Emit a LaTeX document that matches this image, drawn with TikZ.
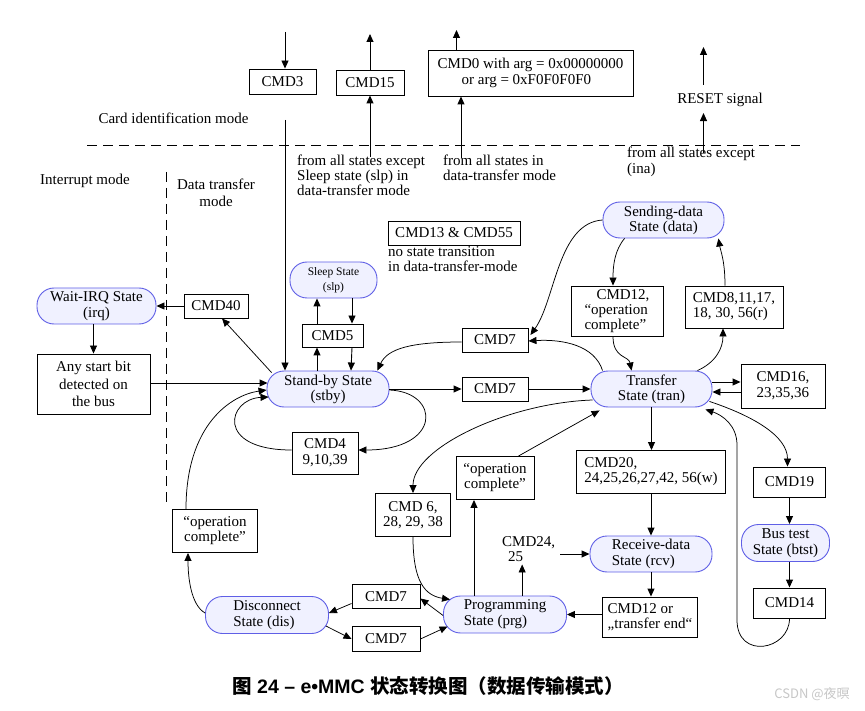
\documentclass[tikz,border=0pt]{standalone}
\usepackage{fontspec}
\setmainfont{Liberation Serif}
\newfontfamily\cjk{Noto Sans CJK SC}
\newfontfamily\capsans{Liberation Sans}
\usetikzlibrary{arrows.meta,calc}
\definecolor{stateblue}{RGB}{95,95,230}
\definecolor{statefill}{RGB}{240,241,255}
\begin{document}
\begin{tikzpicture}[x=1pt,y=-1pt,
  every node/.style={font=\fontsize{15}{16}\selectfont, inner sep=0pt},
  state/.style={draw=stateblue, fill=statefill, line width=0.9pt, rounded corners=17pt, minimum height=36pt, align=center},
  box/.style={draw=black, line width=0.9pt, align=center},
  arr/.style={-{Triangle[length=8pt,width=7pt]}, line width=0.9pt},
  carr/.style={-{Triangle[length=8pt,width=7pt]}, line width=0.75pt},
  dline/.style={dash pattern=on 10pt off 6pt, line width=0.9pt}]
\useasboundingbox (0,0) rectangle (865,711);
\fill[white] (0,0) rectangle (865,711);

% ---------- top area ----------
\node[box, minimum width=67pt, minimum height=25pt] (cmd3) at (282.5,81.5) {CMD3};
\node[box, minimum width=68pt, minimum height=25pt] (cmd15) at (370,82.5) {CMD15};
\node[box, minimum width=205pt, minimum height=46pt, align=left] (cmd0) at (530.5,73)
  {\fontsize{15}{15}\selectfont CMD0 with arg = 0x00000000\\\hspace*{24pt}or arg = 0xF0F0F0F0};
\node (reset) at (720,100) {RESET signal};
\node (cardid) at (173.5,118) {Card identification mode};
\node[align=left, anchor=north west, font=\fontsize{15}{15}\selectfont] (from1) at (297,155)
  {from all states except\\Sleep state (slp) in\\data-transfer mode};
\node[align=left, anchor=north west, font=\fontsize{15}{15}\selectfont] (from2) at (443,155)
  {from all states in\\data-transfer mode};
\node[align=left, anchor=north west, font=\fontsize{15}{16}\selectfont] (from3) at (627,147)
  {from all states except\\(ina)};
\node (intmode) at (85,181) {Interrupt mode};
\node[align=center, font=\fontsize{15}{17}\selectfont] (dtmode) at (216,193) {Data transfer\\mode};
\node[box, minimum width=132pt, minimum height=24pt] (cmd1355) at (454,233) {CMD13 \& CMD55};
\node[align=left, anchor=north west, font=\fontsize{15}{15}\selectfont] (nostate) at (388,246)
  {no state transition\\in data-transfer-mode};

\draw[dline] (87,145) -- (800,145);
\draw[dline] (166,172) -- (166,505);

\coordinate (c3top) at (285,32);
\draw[arr] (c3top) -- (c3top |- cmd3.north);
\coordinate (c15top) at (370,34);
\draw[arr] (cmd15.north) -- (c15top);
\coordinate (c15bot) at (370,157);
\draw[arr] (c15bot) -- (cmd15.south);
\coordinate (c0top) at (456.5,30);
\draw[arr] (c0top |- cmd0.north) -- (c0top);
\coordinate (c0bot) at (461,158);
\draw[arr] (c0bot) -- (c0bot |- cmd0.south);
\coordinate (rtop) at (703.5,47);
\coordinate (r1) at (703.5,85);
\draw[arr] (r1) -- (rtop);
\coordinate (r2) at (703.5,153);
\draw[arr] (r2) -- ($(r2 |- reset.south)+(0,6)$);

% ---------- states and boxes ----------
\node[state, minimum width=119pt] (irq) at (96.5,306) {Wait-IRQ State\\(irq)};
\node[box, minimum width=64pt, minimum height=24pt] (cmd40) at (216,306) {CMD40};
\node[box, minimum width=113pt, minimum height=60pt, font=\fontsize{15}{17.5}\selectfont] (anybit) at (93.5,384) {Any start bit\\detected on\\the bus};
\node[state, minimum width=87pt, font=\fontsize{11.5}{15.5}\selectfont] (slp) at (333.5,280) {Sleep State\\(slp)};
\node[box, minimum width=61pt, minimum height=23pt] (cmd5) at (332.5,335.5) {CMD5};
\node[state, minimum width=122pt, font=\fontsize{15}{15}\selectfont] (stby) at (328,389) {Stand-by State\\(stby)};
\node[box, minimum width=66pt, minimum height=42pt] (cmd4) at (325,453) {CMD4\\9,10,39};
\node[box, minimum width=66pt, minimum height=24pt] (cmd7a) at (495,340) {CMD7};
\node[box, minimum width=66pt, minimum height=24pt] (cmd7b) at (495,389) {CMD7};
\node[state, minimum width=121pt, font=\fontsize{15}{15}\selectfont] (tran) at (651.5,389) {Transfer\\State (tran)};
\node[box, minimum width=84pt, minimum height=44pt, align=left] (cmd16) at (783,386) {CMD16,\\23,35,36};
\node[state, minimum width=121pt, font=\fontsize{15}{15}\selectfont] (data) at (663.5,220) {Sending-data\\State (data)};
\node[box, minimum width=92pt, minimum height=50pt, align=left, font=\fontsize{15}{15}\selectfont] (cmd12a) at (617,311) {\hspace*{12pt}CMD12,\\“operation\\complete”};
\node[box, minimum width=98pt, minimum height=42pt, align=left, font=\fontsize{15}{15}\selectfont] (cmd8) at (734,307) {CMD8,11,17,\\18, 30, 56(r)};
\node[box, minimum width=149pt, minimum height=43pt, align=left, font=\fontsize{15}{15}\selectfont] (cmd20) at (651,472) {CMD20,\\24,25,26,27,42, 56(w)};
\node[state, minimum width=122pt, align=left, font=\fontsize{15}{16}\selectfont] (rcv) at (651,554) {Receive-data\\State (rcv)};
\node[box, minimum width=95pt, minimum height=40pt, align=left, font=\fontsize{15}{15}\selectfont] (cmd12b) at (650,617) {CMD12 or\\„transfer end“};
\node[state, minimum width=123pt, minimum height=37pt, align=left, font=\fontsize{15}{16}\selectfont] (prg) at (505,614.5) {Programming\\State (prg)};
\node[align=left, anchor=north west, font=\fontsize{15}{15}\selectfont] (cmd2425) at (502,536) {CMD24,\\\hspace*{6pt}25};
\node[box, minimum width=78pt, minimum height=43pt, font=\fontsize{15}{15}\selectfont] (opcmid) at (495,478) {“operation\\complete”};
\node[box, minimum width=75pt, minimum height=43pt, font=\fontsize{15}{15}\selectfont] (cmd6) at (413,515) {CMD 6,\\28, 29, 38};
\node[box, minimum width=68pt, minimum height=24pt] (cmd7c) at (386,596.5) {CMD7};
\node[box, minimum width=68pt, minimum height=25pt] (cmd7d) at (386,639) {CMD7};
\node[state, minimum width=123pt, minimum height=37pt, align=left, font=\fontsize{15}{16}\selectfont] (dis) at (267,615) {Disconnect\\State (dis)};
\node[box, minimum width=85pt, minimum height=43pt, font=\fontsize{15}{15}\selectfont] (opcleft) at (215,531) {“operation\\complete”};
\node[state, minimum width=88pt, minimum height=37pt, font=\fontsize{15}{16}\selectfont] (btst) at (785.5,543) {Bus test\\State (btst)};
\node[box, minimum width=72pt, minimum height=30pt] (cmd19) at (789.5,482) {CMD19};
\node[box, minimum width=72pt, minimum height=30pt] (cmd14) at (789.5,603) {CMD14};

% ---------- connectors ----------
\coordinate (vtop) at (285,120);
\draw[arr] (vtop) -- (vtop |- stby.north);

\draw[arr] (anybit.north |- irq.south) -- (anybit.north);
\draw[arr] (cmd40.west) -- (irq.east);
\draw[carr] ($(stby.north west)+(5,2)$) -- ($(cmd40.south)+(6,0)$);
\draw[arr] (anybit.east |- 0,383) -- ($(stby.west |- 0,383)+(1,0)$);

% sleep / cmd5
\draw[arr] ($(stby.north)+(-11,0)$) -- ($(cmd5.south)+(-15.5,0)$);
\draw[arr] ($(cmd5.north)+(-15.5,0)$) -- ($(slp.south)+(-16.5,0)$);
\draw[arr] ($(slp.south)+(18.5,0)$) -- ($(cmd5.north)+(19.5,0)$);
\draw[arr] ($(cmd5.south)+(19.5,0)$) -- ($(stby.north)+(23,0)$);

% cmd4 loop
\draw[carr] ($(stby.east)+(0,1)$) .. controls +(51,2) and +(84,0) .. ($(cmd4.east)+(0,-3)$);
\draw[carr] ($(cmd4.west)+(0,-3)$) .. controls +(-77,0) and +(-41,2) .. ($(stby.west)+(2,8)$);

% standby <-> transfer
\draw[arr] (stby.east) -- (cmd7b.west);
\draw[arr] (cmd7b.east) -- (tran.west);
\draw[carr] ($(tran.north west)+(12,0)$) .. controls +(-8,-25) and +(35,-2) .. ($(cmd7a.east)+(0,1)$);
\draw[carr] ($(cmd7a.west)+(0,2)$) .. controls +(-50,0) and +(10,-22) .. ($(stby.north east)+(-12,0)$);
\draw[carr] (data.west) .. controls +(-45,3) and +(25,-35) .. ($(cmd7a.east)+(2,-5)$);

% sending data
\draw[carr] ($(data.south west)+(22,0)$) .. controls +(-10,12) and +(0,-20) .. ($(cmd12a.north)+(-4,0)$);
\draw[carr] ($(cmd12a.south)+(-4,0)$) .. controls +(0,22) and +(-3,-15) .. ($(tran.north west)+(41,0)$);
\draw[carr] ($(tran.north east)+(-15,0)$) .. controls +(18,-8) and +(0,20) .. ($(cmd8.south)+(-11,0)$);
\draw[carr] ($(cmd8.north)+(-9,0)$) .. controls +(0,-25) and +(2,12) .. ($(data.south east)+(-6,0)$);

% cmd16
\draw[arr] ($(tran.east)+(0,-7)$) -- ($(cmd16.west)+(0,-4)$);
\draw[arr] ($(cmd16.west)+(0,6)$) -- ($(tran.east)+(0,3)$);

% write path
\draw[arr] (tran.south) -- (tran.south |- cmd20.north);
\draw[arr] (cmd20.south) -- (cmd20.south |- rcv.north);
\draw[arr] (rcv.south) -- (rcv.south |- cmd12b.north);
\draw[arr] (prg.east -| cmd12b.west) -- (prg.east);
\draw[arr] ($(cmd2425.east |- rcv.west)+(5,0)$) -- (rcv.west);
\coordinate (t25) at ($(cmd2425.south)+(-6.5,3)$);
\draw[arr] (t25 |- prg.north) -- (t25);
\coordinate (top) at ($(opcmid.south)+(-21,0)$);
\draw[arr] (top |- prg.north) -- (top);
\draw[carr] ($(opcmid.north east)+(-16,0)$) -- ($(tran.south west)+(9,3)$);
\draw[carr] ($(tran.west)+(2,11)$) .. controls +(-85,3) and +(0,-45) .. (cmd6.north);
\draw[carr] (cmd6.south) .. controls +(0,45) and +(-25,-4) .. ($(prg.west)+(7,-15)$);

% disconnect
\draw[carr] ($(prg.west)+(0,1)$) -- ($(cmd7c.east)+(0,2)$);
\draw[carr] ($(cmd7c.west)+(0,7)$) -- ($(dis.east)+(0,-2)$);
\draw[carr] ($(dis.east)+(-3,11)$) -- (cmd7d.west);
\draw[carr] (cmd7d.east) -- ($(prg.west)+(4.5,12)$);
\draw[carr] ($(dis.west)+(0,-2)$) .. controls +(-14,-8) and +(0,25) .. ($(opcleft.south)+(-27,0)$);
\draw[carr] ($(opcleft.north)+(-29,0)$) .. controls +(0,-85) and +(-35,5) .. ($(stby.west)+(0,1)$);

% bus test
\draw[carr] ($(tran.south east)+(-3,-6)$) .. controls +(45,15) and +(0,-30) .. ($(cmd19.north)+(-2,0)$);
\draw[arr] (cmd19.south) -- (cmd19.south |- btst.north);
\draw[arr] (cmd19.south |- btst.south) -- (cmd19.south |- cmd14.north);
\coordinate (lp1) at (737,620);
\coordinate (lp2) at (737,445);
\draw[carr] (cmd14.south) .. controls +(0,32) and (737,660) .. (lp1) -- (lp2) .. controls (737,425) and (722,415) .. ($(tran.south east)+(-7,2)$);

% caption
\node (cap) at (428,686) {\fontsize{19.5}{20}\selectfont\cjk\bfseries 图{\capsans\bfseries\ 24 – e•MMC }状态转换图（数据传输模式）};
\node[text=black!22] (wm) at (812,694) {\fontsize{13}{13}\selectfont\cjk CSDN @夜暝};
\end{tikzpicture}
\end{document}
